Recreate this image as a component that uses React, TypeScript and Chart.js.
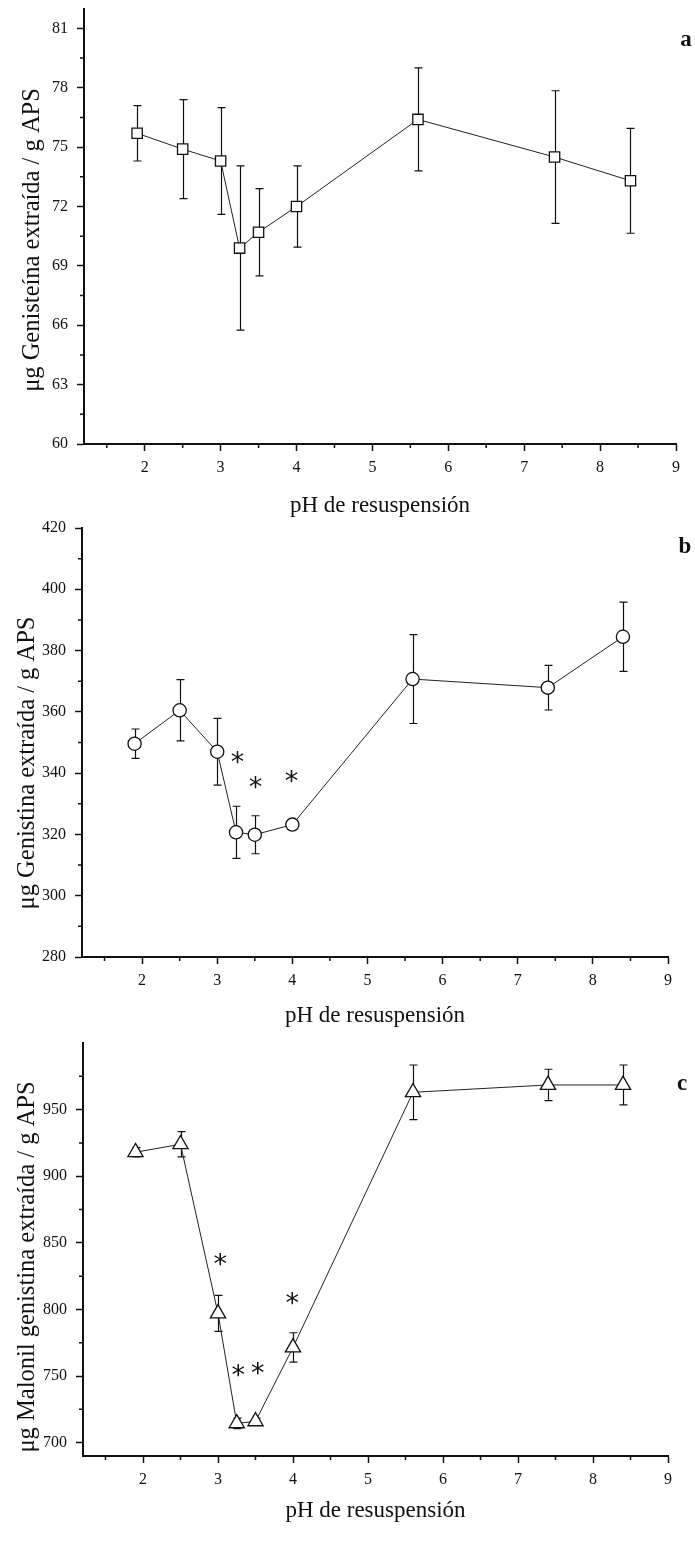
import React, { useEffect, useRef } from "react";
import { Chart, registerables } from "chart.js";

Chart.register(...registerables);

// ---------- data ----------
const phValues = [1.9, 2.5, 3.0, 3.25, 3.5, 4.0, 5.6, 7.4, 8.4];
const xTickValues = [2, 3, 4, 5, 6, 7, 8, 9];
const xMinorTickValues = [1.5, 2.5, 3.5, 4.5, 5.5, 6.5, 7.5, 8.5];
const xAxisTitle = "pH de resuspensión";

// panel a – genisteína
const genisteinaMean = [75.7, 74.9, 74.3, 69.9, 70.7, 72.0, 76.4, 74.5, 73.3];
const genisteinaErr = [1.4, 2.5, 2.7, 4.15, 2.2, 2.05, 2.6, 3.35, 2.65];
const genisteinaTicks = [60, 63, 66, 69, 72, 75, 78, 81];
const genisteinaMinorTicks = [61.5, 64.5, 67.5, 70.5, 73.5, 76.5, 79.5];
const genisteinaTitle = "μg Genisteína extraída / g APS";
const genisteinaStarX: number[] = [];
const genisteinaStarY: number[] = [];

// panel b – genistina
const genistinaMean = [349.6, 360.5, 347.0, 320.7, 319.9, 323.2, 370.7, 367.9, 384.5];
const genistinaErr = [4.8, 10.0, 10.9, 8.5, 6.2, 1.2, 14.5, 7.3, 11.3];
const genistinaTicks = [280, 300, 320, 340, 360, 380, 400, 420];
const genistinaMinorTicks = [290, 310, 330, 350, 370, 390, 410];
const genistinaTitle = "μg Genistina extraída / g APS";
const genistinaStarX = [3.27, 3.51, 3.99];
const genistinaStarY = [345, 337, 339];

// panel c – malonil genistina
const malonilMean = [918, 924, 797, 714.5, 716, 771.5, 963, 968.5, 968.5];
const malonilErr = [3.5, 9.5, 13.5, 4, 2.5, 11, 20.5, 11.8, 15];
const malonilTicks = [700, 750, 800, 850, 900, 950];
const malonilMinorTicks = [725, 775, 825, 875, 925, 975];
const malonilTitle = "μg Malonil genistina extraída / g APS";
const malonilStarX = [3.03, 3.27, 3.53, 3.99];
const malonilStarY = [837.5, 754, 756, 808];

// ---------- styling / layout ----------
const INK = "#111";
const SERIF = "'Liberation Serif', 'Times New Roman', serif";
const W = 695;

type PanelSpec = {
  top: number;
  height: number;
  padTop: number;
  padRight: number;
  yWidth: number;
  xHeight: number;
  yMin: number;
  yMax: number;
  yTicks: number[];
  yMinor: number[];
  mean: number[];
  err: number[];
  pointStyle: string;
  pointRadius: number;
  starX: number[];
  starY: number[];
  yTitle: string;
  yTitlePos: [number, number];
  xTitleY: number;
  letter: string;
  letterPos: [number, number];
};

const panels: PanelSpec[] = [
  {
    top: 0, height: 525, padTop: 7, padRight: 19, yWidth: 84, xHeight: 81,
    yMin: 60, yMax: 82, yTicks: genisteinaTicks, yMinor: genisteinaMinorTicks,
    mean: genisteinaMean, err: genisteinaErr, pointStyle: "rect", pointRadius: 7.3,
    starX: genisteinaStarX, starY: genisteinaStarY,
    yTitle: genisteinaTitle, yTitlePos: [33, 240], xTitleY: 506,
    letter: "a", letterPos: [686, 40],
  },
  {
    top: 520, height: 510, padTop: 8, padRight: 27, yWidth: 82, xHeight: 73,
    yMin: 280, yMax: 420, yTicks: genistinaTicks, yMinor: genistinaMinorTicks,
    mean: genistinaMean, err: genistinaErr, pointStyle: "circle", pointRadius: 6.6,
    starX: genistinaStarX, starY: genistinaStarY,
    yTitle: genistinaTitle, yTitlePos: [28, 763 - 520], xTitleY: 1016 - 520,
    letter: "b", letterPos: [685, 547 - 520],
  },
  {
    top: 1030, height: 512, padTop: 13, padRight: 27, yWidth: 83, xHeight: 86,
    yMin: 690, yMax: 1000, yTicks: malonilTicks, yMinor: malonilMinorTicks,
    mean: malonilMean, err: malonilErr, pointStyle: "triangle", pointRadius: 8.8,
    starX: malonilStarX, starY: malonilStarY,
    yTitle: malonilTitle, yTitlePos: [28, 1267 - 1030], xTitleY: 1511 - 1030,
    letter: "c", letterPos: [682, 1084 - 1030],
  },
];

function decorPlugin(spec: PanelSpec) {
  return {
    id: "decor",
    beforeDatasetsDraw(chart: any) {
      const { ctx, scales } = chart;
      const x = scales.x, y = scales.y;
      ctx.save();
      ctx.strokeStyle = INK;
      ctx.lineWidth = 1.2;
      phValues.forEach((xv, i) => {
        const px = Math.round(x.getPixelForValue(xv)) + 0.5;
        const t = y.getPixelForValue(spec.mean[i] + spec.err[i]);
        const b = y.getPixelForValue(spec.mean[i] - spec.err[i]);
        ctx.beginPath();
        ctx.moveTo(px, t); ctx.lineTo(px, b);
        ctx.moveTo(px - 4, t); ctx.lineTo(px + 4, t);
        ctx.moveTo(px - 4, b); ctx.lineTo(px + 4, b);
        ctx.stroke();
      });
      ctx.restore();
    },
    afterDraw(chart: any) {
      const { ctx, scales, chartArea } = chart;
      const x = scales.x, y = scales.y;
      ctx.save();
      // minor ticks
      ctx.strokeStyle = INK;
      ctx.lineWidth = 1.5;
      ctx.beginPath();
      xMinorTickValues.forEach((v) => {
        const px = x.getPixelForValue(v);
        ctx.moveTo(px, chartArea.bottom);
        ctx.lineTo(px, chartArea.bottom + 4);
      });
      spec.yMinor.forEach((v) => {
        const py = y.getPixelForValue(v);
        ctx.moveTo(chartArea.left, py);
        ctx.lineTo(chartArea.left - 4, py);
      });
      ctx.stroke();

      ctx.fillStyle = INK;
      // asterisks
      ctx.font = `27px 'DejaVu Sans', sans-serif`;
      ctx.textAlign = "center";
      ctx.textBaseline = "alphabetic";
      const m = ctx.measureText("*");
      const shift = (m.actualBoundingBoxDescent - m.actualBoundingBoxAscent) / 2;
      spec.starX.forEach((sx, i) => {
        ctx.fillText("*", x.getPixelForValue(sx), y.getPixelForValue(spec.starY[i]) - shift);
      });

      // y title
      ctx.font = `24.5px ${SERIF}`;
      ctx.textBaseline = "middle";
      ctx.save();
      ctx.translate(spec.yTitlePos[0], spec.yTitlePos[1]);
      ctx.rotate(-Math.PI / 2);
      ctx.fillText(spec.yTitle, 0, 0);
      ctx.restore();

      // x title
      ctx.font = `23px ${SERIF}`;
      ctx.fillText(xAxisTitle, (chartArea.left + chartArea.right) / 2, spec.xTitleY);

      // panel letter
      ctx.font = `bold 23px ${SERIF}`;
      ctx.fillText(spec.letter, spec.letterPos[0], spec.letterPos[1]);
      ctx.restore();
    },
  };
}

function makeConfig(spec: PanelSpec): any {
  const tickFont = { family: SERIF, size: 16 };
  return {
    type: "line",
    data: {
      datasets: [
        {
          data: phValues.map((xv, i) => ({ x: xv, y: spec.mean[i] })),
          borderColor: "#222",
          borderWidth: 1,
          tension: 0,
          fill: false,
          pointStyle: spec.pointStyle,
          pointRadius: spec.pointRadius,
          pointBackgroundColor: "#fff",
          pointBorderColor: INK,
          pointBorderWidth: 1.3,
        },
      ],
    },
    options: {
      animation: false,
      responsive: false,
      devicePixelRatio: 1,
      layout: { padding: { top: spec.padTop, right: spec.padRight, bottom: 0, left: 0 } },
      plugins: { legend: { display: false }, tooltip: { enabled: false } },
      scales: {
        x: {
          type: "linear",
          min: 1.2,
          max: 9,
          afterBuildTicks: (s: any) => {
            s.ticks = xTickValues.map((v) => ({ value: v }));
          },
          afterFit: (s: any) => {
            s.height = spec.xHeight;
            s.paddingLeft = 0;
            s.paddingRight = 0;
          },
          grid: { drawOnChartArea: false, tickLength: 7, tickWidth: 1.5, tickColor: INK },
          border: { color: INK, width: 2 },
          ticks: { color: INK, font: tickFont, padding: 7, maxRotation: 0, autoSkip: false },
        },
        y: {
          type: "linear",
          min: spec.yMin,
          max: spec.yMax,
          afterBuildTicks: (s: any) => {
            s.ticks = spec.yTicks.map((v) => ({ value: v }));
          },
          afterFit: (s: any) => {
            s.width = spec.yWidth;
            s.paddingTop = 0;
            s.paddingBottom = 0;
          },
          grid: { drawOnChartArea: false, tickLength: 7, tickWidth: 1.5, tickColor: INK },
          border: { color: INK, width: 2 },
          ticks: { color: INK, font: tickFont, padding: 9, autoSkip: false },
        },
      },
    },
    plugins: [decorPlugin(spec)],
  };
}

function Panel({ spec }: { spec: PanelSpec }) {
  const ref = useRef<HTMLCanvasElement>(null);
  useEffect(() => {
    const chart = new Chart(ref.current as HTMLCanvasElement, makeConfig(spec));
    return () => chart.destroy();
  }, [spec]);
  return (
    <canvas
      ref={ref}
      width={W}
      height={spec.height}
      style={{ position: "absolute", left: 0, top: spec.top, width: W, height: spec.height }}
    />
  );
}

export default function App() {
  return (
    <div
      style={{
        position: "absolute",
        left: 0,
        top: 0,
        width: W,
        height: 1542,
        background: "#fff",
        overflow: "hidden",
      }}
    >
      {panels.map((p) => (
        <Panel key={p.letter} spec={p} />
      ))}
    </div>
  );
}
